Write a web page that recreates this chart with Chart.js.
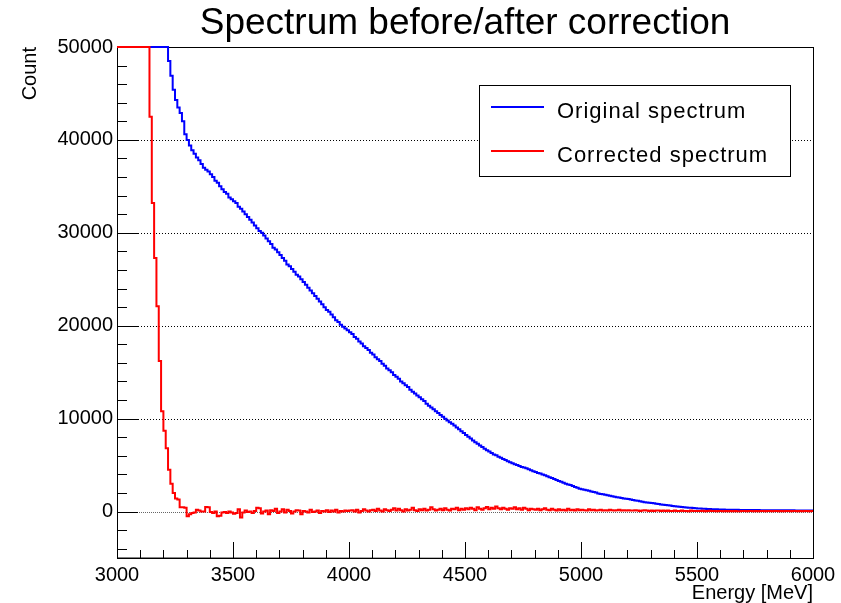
<html lang="en">
  <head>
    <meta charset="utf-8" />
    <title>Spectrum before/after correction</title>
    <script src="https://cdn.jsdelivr.net/npm/chart.js@4.4.1/dist/chart.umd.min.js"></script>
    <style>
      * { margin: 0; padding: 0; box-sizing: border-box; }
      body { background: #ffffff; }
      #box { width: 841px; height: 603px; position: relative; }
    </style>
  </head>
  <body>
    <div id="box"><canvas id="spectrum"></canvas></div>
    <script>
      // histogram binning (MeV)
      const binStart = 3000;
      const binWidth = 10;
      const yTickValues = [0, 10000, 20000, 30000, 40000, 50000];
      const seriesNames = ['Original spectrum', 'Corrected spectrum'];

      // bin contents, one per 10 MeV bin from 3000 to 6000 (values above 50000 shown at the frame top)
      const originalCounts = [
        50000, 50000, 50000, 50000, 50000, 50000, 50000, 50000, 50000, 50000,
        50000, 50000, 50000, 50000, 50000, 50000, 50000, 50000, 50000, 50000,
        50000, 50000, 48500, 46900, 45400, 44300, 43500, 42900, 42000, 40600,
        40000, 39400, 38900, 38500, 38100, 37800, 37400, 37000, 36800, 36600,
        36300, 36000, 35600, 35400, 35000, 34700, 34400, 34200, 33800, 33600,
        33400, 33200, 32800, 32600, 32300, 32000, 31700, 31400, 31100, 30800,
        30500, 30200, 30000, 29700, 29400, 29100, 28800, 28400, 28200, 27900,
        27600, 27300, 27000, 26600, 26400, 26100, 25800, 25500, 25300, 25000,
        24700, 24400, 24100, 23800, 23500, 23200, 22900, 22600, 22300, 22000,
        21700, 21500, 21200, 20900, 20600, 20400, 20100, 19900, 19700, 19500,
        19300, 19100, 18800, 18600, 18300, 18100, 17800, 17600, 17400, 17100,
        16900, 16600, 16400, 16200, 15900, 15700, 15400, 15200, 15000, 14700,
        14500, 14300, 14000, 13800, 13600, 13400, 13100, 12900, 12700, 12500,
        12300, 12100, 11900, 11600, 11400, 11200, 11000, 10800, 10600, 10400,
        10200, 10000, 9800, 9600, 9450, 9250, 9050, 8850, 8650, 8450,
        8250, 8050, 7850, 7650, 7450, 7300, 7100, 6950, 6750, 6600,
        6450, 6300, 6150, 6050, 5900, 5800, 5650, 5550, 5400, 5300,
        5200, 5100, 5000, 4900, 4800, 4750, 4650, 4550, 4450, 4350,
        4250, 4150, 4100, 4000, 3900, 3800, 3700, 3600, 3500, 3400,
        3300, 3200, 3100, 3000, 2900, 2850, 2750, 2650, 2550, 2450,
        2400, 2350, 2300, 2250, 2150, 2100, 2050, 1950, 1900, 1850,
        1800, 1750, 1700, 1650, 1600, 1550, 1500, 1450, 1400, 1380,
        1350, 1300, 1250, 1200, 1150, 1100, 1050, 1000, 980, 950,
        920, 880, 840, 800, 770, 740, 700, 670, 640, 610,
        580, 550, 520, 490, 460, 440, 420, 400, 380, 360,
        340, 320, 300, 290, 280, 270, 260, 250, 240, 230,
        220, 210, 200, 200, 190, 190, 180, 180, 175, 170,
        170, 165, 165, 160, 160, 155, 155, 150, 150, 150,
        145, 145, 140, 140, 140, 135, 135, 135, 130, 130,
        130, 130, 125, 125, 125, 120, 120, 120, 120, 115
      ];

      const correctedCounts = [
        50000, 50000, 50000, 50000, 50000, 50000, 50000, 50000, 50000, 50000,
        50000, 50000, 50000, 50000, 42500, 33200, 27300, 22100, 16200, 10800,
        8700, 6800, 4500, 3000, 2000, 1400, 1300, 460, 450, 400,
        -500, -300, -150, -100, 200, 100, 0, 0, 500, 450,
        -50, -150, 0, -500, -450, -100, -50, -150, 0, -100,
        -250, -150, 250, -650, -100, 100, -50, 0, -150, 50,
        400, 350, -200, 0, 100, -300, 150, 50, 300, -150,
        0, 250, -100, 200, 50, -200, 0, 150, 100, -300,
        50, 0, -100, 200, -50, 0, 100, -150, 50, 0,
        150, -50, 100, 0, 200, -100, 50, 0, 100, 50,
        100, 150, 0, 200, -100, 50, 250, 100, 0, 150,
        200, 50, 300, 100, 0, 250, 150, 50, 200, 350,
        100, 300, 150, 0, 250, 100, 200, 400, 150, 50,
        250, 150, 300, 100, 200, 450, 250, 100, 200, 300,
        150, 350, 200, 100, 300, 250, 400, 150, 300, 200,
        350, 250, 400, 300, 150, 450, 300, 200, 350, 500,
        250, 400, 300, 550, 350, 250, 400, 300, 200, 350,
        300, 450, 250, 350, 200, 400, 300, 150, 300, 250,
        200, 300, 150, 250, 350, 200, 150, 300, 200, 100,
        250, 150, 200, 100, 300, 150, 200, 100, 250, 150,
        200, 150, 100, 250, 150, 200, 100, 150, 200, 100,
        150, 100, 200, 150, 100, 150, 200, 100, 150, 100,
        150, 100, 100, 150, 100, 50, 100, 150, 100, 50,
        100, 50, 100, 100, 50, 100, 50, 100, 50, 50,
        100, 50, 50, 100, 50, 60, 40, 100, 50, 70,
        60, 50, 80, 40, 60, 90, 50, 70, 40, 60,
        60, 40, 50, 30, 50, 40, 60, 30, 40, 50,
        70, 40, 50, 60, 30, 50, 40, 60, 50, 40,
        50, 60, 40, 50, 70, 40, 50, 30, 60, 50,
        40, 50, 60, 40, 50, 30, 50, 60, 40, 50
      ];

      // histogram points: one per bin low edge, plus the closing edge at 6000
      const toSteps = (counts) => {
        const pts = counts.map((v, i) => ({ x: binStart + i * binWidth, y: v }));
        pts.push({ x: binStart + counts.length * binWidth, y: counts[counts.length - 1] });
        return pts;
      };

      const fontName = "'Liberation Sans', Arial, sans-serif";

      // ROOT style frame: box, inward ticks, dotted grid, legend
      const rootFrame = {
        id: 'rootFrame',
        beforeDatasetsDraw(chart) {
          const { ctx, chartArea: a, scales: { y } } = chart;
          ctx.save();
          ctx.lineWidth = 1;
          yTickValues.forEach((v) => {
            if (v === 0 || v === y.max) return;
            const py = Math.round(y.getPixelForValue(v)) + 0.5;
            ctx.strokeStyle = '#000000';
            ctx.setLineDash([1, 2]);
            ctx.beginPath();
            ctx.moveTo(a.left, py);
            ctx.lineTo(a.right, py);
            ctx.stroke();
          });
          // zero line
          const p0 = Math.round(y.getPixelForValue(0)) + 0.5;
          ctx.strokeStyle = '#666666';
          ctx.setLineDash([1, 1]);
          ctx.beginPath();
          ctx.moveTo(a.left, p0);
          ctx.lineTo(a.right, p0);
          ctx.stroke();
          // frame box
          ctx.setLineDash([]);
          ctx.strokeStyle = '#000000';
          ctx.strokeRect(Math.round(a.left) + 0.5, Math.round(a.top) + 0.5,
            Math.round(a.right - a.left), Math.round(a.bottom - a.top));
          ctx.restore();
        },
        afterDatasetsDraw(chart) {
          const { ctx, chartArea: a, scales: { x, y } } = chart;
          ctx.save();
          ctx.strokeStyle = '#000000';
          ctx.lineWidth = 1;
          ctx.setLineDash([]);

          ctx.beginPath();
          // y axis ticks (major 10000, minor 2000)
          for (let v = -4000; v < y.max; v += 2000) {
            const py = Math.round(y.getPixelForValue(v)) + 0.5;
            const len = v % 10000 === 0 ? 21 : 10;
            ctx.moveTo(a.left, py);
            ctx.lineTo(a.left + len, py);
          }
          // x axis ticks (major 500, minor 100)
          for (let v = x.min; v <= x.max; v += 100) {
            const px = Math.round(x.getPixelForValue(v)) + 0.5;
            const len = v % 500 === 0 ? 16 : 8;
            ctx.moveTo(px, a.bottom);
            ctx.lineTo(px, a.bottom - len);
          }
          // axis lines
          ctx.moveTo(Math.round(a.left) + 0.5, a.top + 2);
          ctx.lineTo(Math.round(a.left) + 0.5, a.bottom);
          ctx.lineTo(a.right, Math.round(a.bottom) + 0.5);
          ctx.stroke();

          // legend
          const lx = 479, ly = 85, lw = 311, lh = 91;
          ctx.fillStyle = '#ffffff';
          ctx.fillRect(lx, ly, lw, lh);
          ctx.strokeStyle = '#000000';
          ctx.strokeRect(lx + 0.5, ly + 0.5, lw, lh);
          const rows = [107, 151];
          chart.data.datasets.forEach((ds, i) => {
            ctx.strokeStyle = ds.borderColor;
            ctx.lineWidth = 2;
            ctx.beginPath();
            ctx.moveTo(491, rows[i]);
            ctx.lineTo(544, rows[i]);
            ctx.stroke();
            ctx.fillStyle = '#000000';
            ctx.font = '22px ' + fontName;
            ctx.textBaseline = 'alphabetic';
            ctx.textAlign = 'left';
            if ('letterSpacing' in ctx) ctx.letterSpacing = '1px';
            ctx.fillText(ds.label, 557, rows[i] + 11);
            if ('letterSpacing' in ctx) ctx.letterSpacing = '0px';
          });
          ctx.restore();
        }
      };

      new Chart(document.getElementById('spectrum'), {
        type: 'line',
        data: {
          datasets: [
            {
              label: seriesNames[0],
              data: toSteps(originalCounts),
              borderColor: '#0000ff',
              borderWidth: 2,
              stepped: 'before',
              pointRadius: 0,
              fill: false,
              clip: 3,
              order: 2
            },
            {
              label: seriesNames[1],
              data: toSteps(correctedCounts),
              borderColor: '#ff0000',
              borderWidth: 2,
              stepped: 'before',
              pointRadius: 0,
              fill: false,
              clip: 3,
              order: 1
            }
          ]
        },
        options: {
          responsive: true,
          maintainAspectRatio: false,
          animation: false,
          layout: { padding: { left: 0, right: 28, top: 0, bottom: 0 } },
          plugins: {
            legend: { display: false },
            tooltip: { enabled: false },
            title: {
              display: true,
              text: 'Spectrum before/after correction',
              fullSize: false,
              color: '#000000',
              font: { family: fontName, size: 37, weight: 'normal', lineHeight: 1.2 },
              padding: { top: 2, bottom: 0.6 }
            }
          },
          scales: {
            x: {
              type: 'linear',
              min: 3000,
              max: 6000,
              grid: { display: false, drawTicks: false },
              border: { display: false },
              ticks: {
                stepSize: 500,
                maxRotation: 0,
                padding: 5,
                color: '#000000',
                font: { family: fontName, size: 20, lineHeight: 1.2 },
                callback: (v) => String(v)
              },
              title: {
                display: true,
                text: 'Energy [MeV]',
                align: 'end',
                color: '#000000',
                font: { family: fontName, size: 20, lineHeight: 1 },
                padding: { top: 0, bottom: 0 }
              },
              afterFit: (s) => { s.height = 45; }
            },
            y: {
              min: -5000,
              max: 50000,
              grid: { display: false, drawTicks: false },
              border: { display: false },
              afterBuildTicks: (s) => { s.ticks = yTickValues.map((v) => ({ value: v })); },
              ticks: {
                padding: 4,
                color: '#000000',
                font: { family: fontName, size: 20, lineHeight: 1.2 },
                callback: (v) => String(v)
              },
              title: {
                display: true,
                text: 'Count',
                align: 'end',
                color: '#000000',
                font: { family: fontName, size: 20, lineHeight: 1 },
                padding: { top: 20, bottom: 0 }
              },
              afterFit: (s) => { s.width = 117; }
            }
          }
        },
        plugins: [rootFrame]
      });
    </script>
  </body>
</html>
